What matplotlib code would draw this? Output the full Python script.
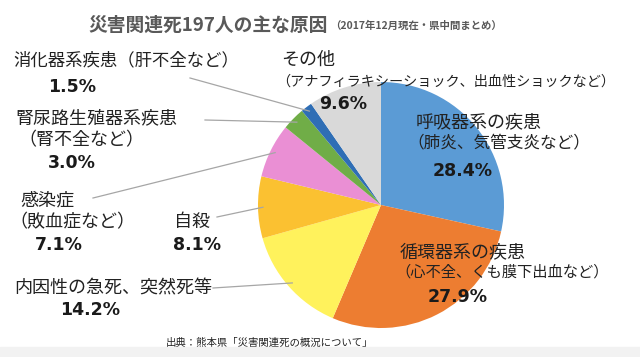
import numpy as np
import matplotlib
matplotlib.use("Agg")
import matplotlib.pyplot as plt
from matplotlib.patches import Rectangle

plt.rcParams["font.family"] = ["Noto Sans CJK JP", "DejaVu Sans"]

# data (clockwise from 12 o'clock)
categories = ["呼吸器系の疾患", "循環器系の疾患", "内因性の急死、突然死等", "自殺",
              "感染症", "腎尿路生殖器系疾患", "消化器系疾患", "その他"]
details = ["（肺炎、気管支炎など）", "（心不全、くも膜下出血など）", "", "",
           "（敗血症など）", "（腎不全など）", "（肝不全など）",
           "（アナフィラキシーショック、出血性ショックなど）"]
shares = [28.4, 27.9, 14.2, 8.1, 7.1, 3.0, 1.5, 9.6]
colors = ["#5b9bd5", "#ed7d31", "#fff25c", "#fbc131", "#ea8fd4", "#70ad47",
          "#2f6eb5", "#d9d9d9"]

W, H = 640, 357
INK = "#222222"
LINE = "#a6a6a6"
CX, CY, R = 381, 205, 123

fig = plt.figure(figsize=(6.4, 3.57), dpi=100)
fig.patch.set_facecolor("white")
ax = fig.add_axes([0, 0, 1, 1])

# light band at the bottom of the slide
fig.patches.append(Rectangle((0, 0), 1, 10 / H, transform=fig.transFigure,
                             color="#f2f2f2", zorder=0))

wedges, _ = ax.pie(shares, colors=colors, startangle=90, counterclock=False,
                   radius=R, center=(CX, H - CY),
                   wedgeprops=dict(linewidth=0))
ax.set_xlim(0, W)
ax.set_ylim(0, H)
ax.set_aspect("auto")
ax.axis("off")


def txt(px, py, s, size=13, ha="left", bold=False, family=None, color=INK):
    kw = {}
    if family:
        kw["family"] = family
    ax.text(px, H - py, s, ha=ha, va="center", fontsize=size, color=color,
            fontweight="bold" if bold else "normal", **kw)


def pct(px, py, v):
    txt(px, py, f"{v:.1f}%", size=12.5, ha="center", bold=True,
        family="DejaVu Sans", color="#1a1a1a")


# title
txt(88, 25, "災害関連死197人の主な原因", size=13.5, bold=True, color="#595959")
txt(330, 26, "（2017年12月現在・県中間まとめ）", size=7.5, bold=True, color="#595959")

# labels
txt(416, 122, categories[0])
txt(407, 143, details[0], size=12)
pct(463, 171, shares[0])

txt(400, 252, categories[1])
txt(395, 272, details[1], size=11)
pct(458, 297, shares[1])

txt(14, 288, categories[2])
pct(90, 310, shares[2])

txt(192, 222, categories[3], ha="center")
pct(197, 245, shares[3])

txt(20, 200, categories[4])
txt(9, 222, details[4])
pct(59, 245, shares[4])

txt(15, 118, categories[5])
txt(18, 140, details[5])
pct(72, 163, shares[5])

txt(13, 60, categories[6] + details[6], size=12.5)
pct(72, 87, shares[6])

txt(281, 60, categories[7])
txt(276, 82, details[7], size=10.2)
pct(343, 104, shares[7])

# leader lines from labels to wedges
starts = {6: (190, 78), 5: (205, 120), 4: (93, 198), 3: (217, 217), 2: (213, 288)}
for i, (sx, sy) in starts.items():
    w = wedges[i]
    mid = np.deg2rad((w.theta1 + w.theta2) / 2)
    ex = CX + 0.96 * R * np.cos(mid)
    ey = (H - CY) + 0.96 * R * np.sin(mid)
    ax.plot([sx, ex], [H - sy, ey], color=LINE, lw=0.9, zorder=3)

# source
txt(270, 343, "出典：熊本県「災害関連死の概況について」", size=7.5, ha="center")

fig.savefig("out.png", dpi=100, facecolor="white")
